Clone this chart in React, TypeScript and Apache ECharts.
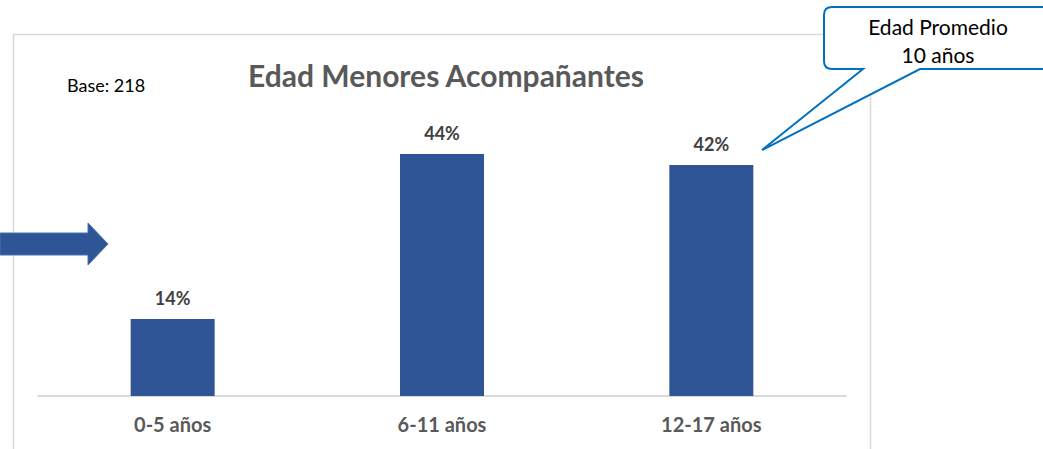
import React, { useEffect, useRef } from "react";
import * as echarts from "echarts";

const categories = ["0-5 años", "6-11 años", "12-17 años"];
const values = [14, 44, 42];
const titleText = "Edad Menores Acompañantes";
const baseText = "Base: 218";
const calloutLines = ["Edad Promedio", "10 años"];

const FONT = "Lato, 'Open Sans', sans-serif";

const calloutPath =
  "M 832 7 L 1050 7 L 1050 69 L 920 69 L 762 150 L 863 69 L 832 69 Q 824 69 824 61 L 824 15 Q 824 7 832 7 Z";

let registered = false;

export default function App() {
  const ref = useRef<HTMLDivElement>(null);
  useEffect(() => {
    document.body.style.margin = "0";
    if (!registered) {
      echarts.graphic.registerShape("callout", echarts.graphic.extendPath(calloutPath, {}) as any);
      registered = true;
    }
    const chart = echarts.init(ref.current!, null, { renderer: "svg" });
    chart.setOption({
      animation: false,
      backgroundColor: "#ffffff",
      title: {
        text: titleText,
        left: 441,
        top: 55,
        textAlign: "center",
        textStyle: { fontFamily: FONT, fontSize: 30, fontWeight: "bold", color: "#595959" },
      },
      grid: { left: 38, right: 197, top: 121, bottom: 53 },
      xAxis: {
        type: "category",
        data: categories,
        axisLine: { lineStyle: { color: "#d9d9d9", width: 2 } },
        axisTick: { show: false },
        axisLabel: {
          margin: 18,
          fontFamily: FONT,
          fontSize: 20,
          fontWeight: "bold",
          color: "#595959",
        },
      },
      yAxis: { type: "value", min: 0, max: 50, show: false, splitLine: { show: false } },
      series: [
        {
          type: "bar",
          data: values,
          barWidth: 84,
          itemStyle: { color: "#2f5597" },
          label: {
            show: true,
            position: "top",
            distance: 12,
            formatter: "{c}%",
            fontFamily: FONT,
            fontSize: 18,
            fontWeight: "bold",
            color: "#404040",
          },
        },
      ],
      graphic: [
        {
          type: "rect",
          z: -10,
          shape: { x: 13.5, y: 34.5, width: 857, height: 430 },
          style: { fill: "none", stroke: "#d9d9d9", lineWidth: 1.5 },
        },
        {
          type: "text",
          x: 67,
          y: 76,
          style: { text: baseText, fontFamily: FONT, fontSize: 18, fill: "#000000" },
        },
        {
          type: "polygon",
          shape: {
            points: [
              [0, 233],
              [88, 233],
              [88, 223],
              [108, 244],
              [88, 265],
              [88, 255],
              [0, 255],
            ],
          },
          style: { fill: "#2f5597", stroke: "#4a74b0", lineWidth: 1 },
        },
        {
          type: "callout",
          x: 0,
          y: 0,
          z: 10,
          style: { fill: "#ffffff", stroke: "#0070c0", lineWidth: 2 },
        },
        {
          type: "text",
          x: 938,
          y: 12,
          z: 11,
          style: {
            text: calloutLines.join("\n"),
            fontFamily: FONT,
            fontSize: 21,
            lineHeight: 28,
            align: "center",
            fill: "#000000",
          },
        },
      ],
    });
    return () => chart.dispose();
  }, []);
  return <div ref={ref} style={{ width: 1043, height: 449 }} />;
}
